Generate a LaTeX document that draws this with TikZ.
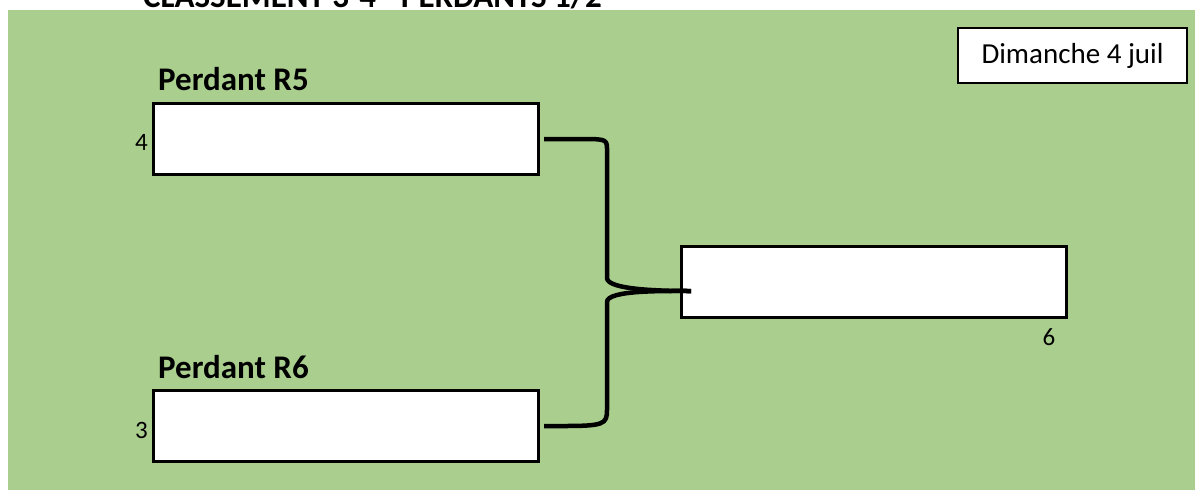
\documentclass[tikz,border=0pt]{standalone}
\usepackage{fontspec}
\setmainfont{Carlito}
\definecolor{pitch}{RGB}{170,206,142}
\tikzset{
  slot/.style={draw, fill=white, line width=3pt, minimum width=385pt, minimum height=71pt, inner sep=0pt},
  datebox/.style={draw, fill=white, line width=2pt, minimum width=229pt, minimum height=55pt, font=\fontsize{29}{33}\selectfont},
  seed/.style={font=\fontsize{25}{29}\selectfont, inner sep=0pt},
  round/.style={font=\bfseries\fontsize{33}{38}\selectfont, inner sep=0pt, anchor=base west},
  link/.style={line width=4.5pt, line cap=butt}
}
\begin{document}
\begin{tikzpicture}[x=1pt, y=-1pt]

  \useasboundingbox (0,0) rectangle (1195,491);
  \clip (0,0) rectangle (1195,491);

  % background
  \fill[pitch] (8,10) rectangle (1195,490);

  % title (cut off at the top)
  \node[round, anchor=base west] (title) at (143,7) {CLASSEMENT 3-4 - PERDANTS 1/2};

  % boxes
  \node[slot, anchor=north west] (r5) at (152,102) {};
  \node[slot, anchor=north west] (r6) at (152,389) {};
  \node[slot, anchor=north west] (win) at (680,245) {};
  \node[datebox, anchor=north west] (date) at (957,27) {Dimanche 4 juil};

  % labels
  \node[round] (lr5) at (158,90) {Perdant R5};
  \node[round] (lr6) at (158,378) {Perdant R6};
  \node[seed, anchor=east] (s4) at ([xshift=-4pt, yshift=-3pt]r5.west) {4};
  \node[seed, anchor=east] (s3) at ([xshift=-4pt, yshift=-4pt]r6.west) {3};
  \node[seed, anchor=north] (s6) at (1049,328) {6};

  % bracket
  \coordinate (join) at ([xshift=11pt, yshift=-9pt]win.west);
  \draw[link] ([xshift=4pt]r5.east) -- ++(40,0)
      .. controls ++(24,0) and ++(0,-12) .. (607,152) -- (607,278)
      .. controls ++(0,12) and ++(-28,0) .. (join);
  \draw[link] ([xshift=4pt]r6.east) -- ++(20,0)
      .. controls ++(40,0) and ++(0,14) .. (607,410) -- (607,302)
      .. controls ++(0,-12) and ++(-28,0) .. (join);

\end{tikzpicture}
\end{document}
